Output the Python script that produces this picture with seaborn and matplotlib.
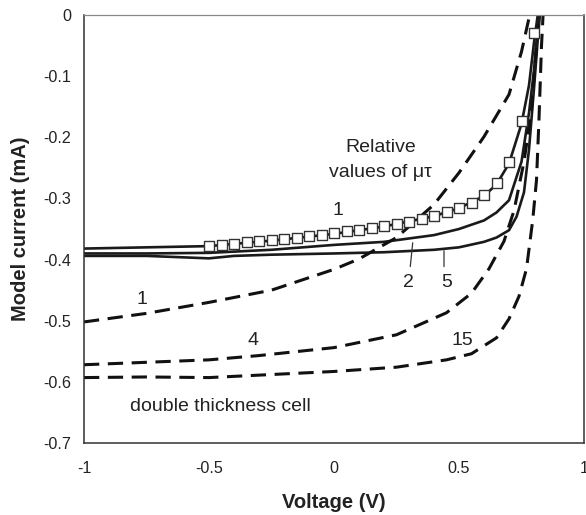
import numpy as np
import pandas as pd
import matplotlib
matplotlib.use("Agg")
import matplotlib.pyplot as plt
import seaborn as sns

# ---------------- data ----------------
sol1_v = [-1, -0.75, -0.5, -0.25, 0, 0.2, 0.4, 0.5, 0.6, 0.65, 0.7, 0.75, 0.78, 0.8, 0.815, 0.825]
sol1_i = [-0.382, -0.380, -0.378, -0.369, -0.358, -0.346, -0.329, -0.316, -0.296, -0.277, -0.243, -0.178, -0.115, -0.045, 0.0, 0.03]

sol2_v = [-1, -0.75, -0.5, -0.25, 0, 0.2, 0.4, 0.5, 0.6, 0.65, 0.7, 0.75, 0.78, 0.8, 0.815, 0.83]
sol2_i = [-0.390, -0.390, -0.389, -0.384, -0.376, -0.371, -0.360, -0.350, -0.336, -0.323, -0.303, -0.240, -0.160, -0.090, -0.02, 0.03]

sol5_v = [-1, -0.75, -0.5, -0.4, -0.25, 0, 0.2, 0.4, 0.5, 0.6, 0.65, 0.7, 0.73, 0.76, 0.78, 0.8, 0.815, 0.83]
sol5_i = [-0.394, -0.394, -0.398, -0.394, -0.392, -0.390, -0.388, -0.384, -0.380, -0.371, -0.364, -0.352, -0.330, -0.290, -0.220, -0.120, -0.04, 0.03]

dash1_v = [-1, -0.75, -0.5, -0.25, 0, 0.1, 0.25, 0.4, 0.5, 0.6, 0.7, 0.75, 0.78, 0.8]
dash1_i = [-0.502, -0.488, -0.470, -0.450, -0.416, -0.399, -0.364, -0.310, -0.258, -0.199, -0.130, -0.060, -0.005, 0.03]

dash4_v = [-1, -0.75, -0.5, -0.3, 0, 0.25, 0.45, 0.55, 0.62, 0.68, 0.72, 0.76, 0.79, 0.81, 0.825]
dash4_i = [-0.572, -0.568, -0.564, -0.557, -0.544, -0.523, -0.487, -0.455, -0.415, -0.370, -0.320, -0.240, -0.155, -0.050, 0.03]

dash15_v = [-1, -0.75, -0.5, -0.3, 0, 0.25, 0.45, 0.55, 0.65, 0.7, 0.74, 0.77, 0.795, 0.81, 0.82, 0.83, 0.84]
dash15_i = [-0.593, -0.592, -0.593, -0.589, -0.583, -0.576, -0.564, -0.554, -0.528, -0.497, -0.460, -0.415, -0.335, -0.270, -0.170, -0.05, 0.03]

meas_v = [-0.5, -0.45, -0.4, -0.35, -0.3, -0.25, -0.2, -0.15, -0.1, -0.05, 0, 0.05, 0.1,
          0.15, 0.2, 0.25, 0.3, 0.35, 0.4, 0.45, 0.5, 0.55, 0.6, 0.65, 0.7, 0.75, 0.8]
meas_i = [-0.377, -0.376, -0.374, -0.372, -0.370, -0.368, -0.366, -0.364, -0.362, -0.360, -0.357, -0.354, -0.351,
          -0.348, -0.345, -0.342, -0.338, -0.334, -0.329, -0.323, -0.316, -0.307, -0.295, -0.275, -0.241, -0.173, -0.029]

xticks = [-1, -0.5, 0, 0.5, 1]
xticklabels = ["-1", "-0.5", "0", "0.5", "1"]
yticks = [0, -0.1, -0.2, -0.3, -0.4, -0.5, -0.6, -0.7]
yticklabels = ["0", "-0.1", "-0.2", "-0.3", "-0.4", "-0.5", "-0.6", "-0.7"]

# ---------------- style ----------------
sns.set_theme(style="white")
plt.rcParams["font.family"] = ["Liberation Sans", "DejaVu Sans"]
TXT = "#222222"

fig = plt.figure(figsize=(5.86, 5.15), dpi=100)
ax = fig.add_axes([84 / 586, 1 - 443 / 515, 500 / 586, 428 / 515])

solid_kw = dict(color="#1a1a1a", linewidth=1.9)
dash_kw = dict(color="#111111", linewidth=2.2)

for v, i in [(sol1_v, sol1_i), (sol2_v, sol2_i), (sol5_v, sol5_i)]:
    sns.lineplot(x=v, y=i, ax=ax, estimator=None, sort=False, **solid_kw)

for v, i in [(dash1_v, dash1_i), (dash4_v, dash4_i), (dash15_v, dash15_i)]:
    sns.lineplot(x=v, y=i, ax=ax, estimator=None, sort=False, **dash_kw)
    ax.lines[-1].set_linestyle((0, (5.0, 2.8)))

sns.scatterplot(x=meas_v, y=meas_i, ax=ax, marker="s", s=48,
                facecolor="white", edgecolor="#333333", linewidth=1.0, zorder=3)

ax.set_xlim(-1, 1)
ax.set_ylim(-0.7, 0)
ax.set_xticks(xticks)
ax.set_xticklabels(xticklabels)
ax.set_yticks(yticks)
ax.set_yticklabels(yticklabels)
ax.tick_params(axis="both", direction="in", length=5, width=1, color="#333333",
               labelsize=11.6, labelcolor=TXT)
ax.tick_params(axis="x", pad=13)
ax.tick_params(axis="y", pad=9)

for side in ["left", "bottom", "right"]:
    ax.spines[side].set_color("#333333")
    ax.spines[side].set_linewidth(1.1)
ax.spines["top"].set_color("#888888")
ax.spines["top"].set_linewidth(0.9)

ax.set_xlabel("Voltage (V)", fontsize=14.5, fontweight="bold", color=TXT)
ax.set_ylabel("Model current (mA)", fontsize=14.5, fontweight="bold", color=TXT)
ax.xaxis.set_label_coords(0.5, -0.116)
ax.yaxis.set_label_coords(-0.108, 0.5)

tk = dict(fontsize=14, color=TXT, ha="center", va="center")
ax.text(0.188, -0.216, "Relative", **tk)
ax.text(0.184, -0.258, "values of μτ", **tk)
ax.text(0.016, -0.319, "1", **tk)
ax.text(0.296, -0.437, "2", **tk)
ax.text(0.452, -0.437, "5", **tk)
ax.text(-0.768, -0.466, "1", **tk)
ax.text(-0.324, -0.532, "4", **tk)
ax.text(0.512, -0.532, "15", **tk)
ax.text(-0.456, -0.641, "double thickness cell", **tk)

ax.annotate("", xy=(0.316, -0.368), xytext=(0.304, -0.416),
            arrowprops=dict(arrowstyle="-", color="#333333", lw=0.9))
ax.annotate("", xy=(0.44, -0.381), xytext=(0.44, -0.416),
            arrowprops=dict(arrowstyle="-", color="#333333", lw=0.9))

fig.savefig("out.png", dpi=100)
